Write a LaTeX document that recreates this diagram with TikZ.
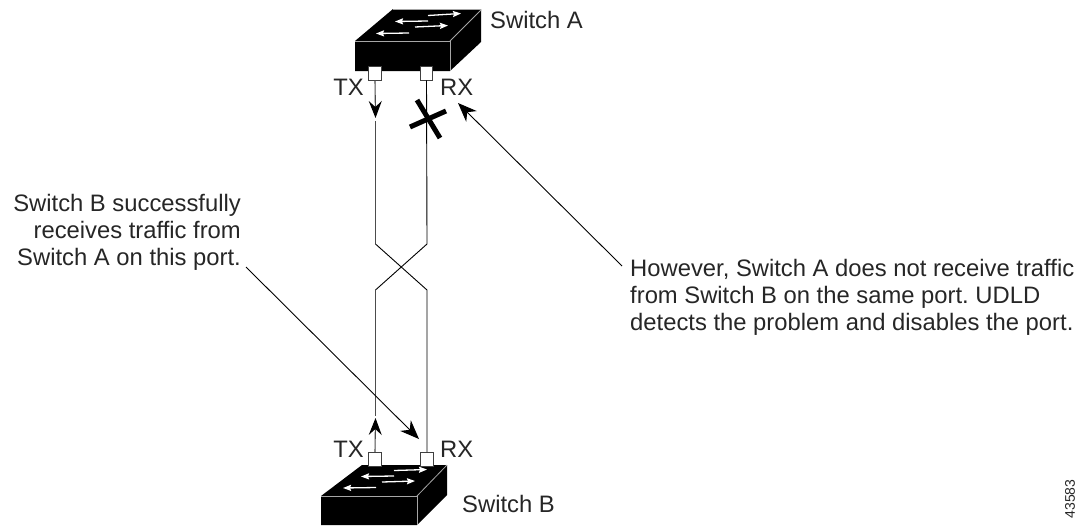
\documentclass[tikz,border=0pt]{standalone}
\usepackage{fontspec}
\setmainfont{Liberation Sans}
\usetikzlibrary{arrows.meta}
\frenchspacing
\tikzset{
  lbl/.style={inner sep=0pt,font=\fontsize{23.8}{26.6}\selectfont,text=black!85},
  portbox/.style={draw=black!75,fill=white,line width=0.9pt,minimum width=12.5pt,minimum height=14pt,inner sep=0pt},
  wire/.style={line width=0.9pt,black},
  greywire/.style={line width=1.1pt,black!70},
  tipped/.style={-{Stealth[length=17pt,width=13pt,inset=6pt,black]}},
  callout/.style={line width=0.9pt,black,-{Stealth[length=19pt,width=15pt,inset=6pt]}},
  whitearrow/.style={draw=white,line width=1.3pt,-{Stealth[length=8pt,width=6pt,inset=1pt]}}
}
\begin{document}
\begin{tikzpicture}[x=1pt,y=-1pt]
\useasboundingbox (0,0) rectangle (1083,525);
% Switch A
\fill[black] (355,41) -- (393,9) -- (481,9) -- (481,42) -- (450,71) -- (355,71) -- cycle;
\draw[draw=black!35,line width=0.8pt] (355,41) -- (450,41) -- (450,71);
\draw[draw=black!35,line width=0.8pt] (450,41) -- (481,10);
\draw[draw=black!35,line width=0.8pt] (393,9.5) -- (481,9.5);
\draw[whitearrow] (428,15.5) -- (461,13.5);
\draw[whitearrow] (428,21) -- (395,21.5);
\draw[whitearrow] (415,27) -- (448,25.5);
\draw[whitearrow] (409,33) -- (376,33.5);
% Switch B
\fill[black] (321,496) -- (362,465) -- (447,465) -- (447,495) -- (417,525) -- (321,525) -- cycle;
\draw[draw=black!35,line width=0.8pt] (321,496) -- (417,496) -- (417,525);
\draw[draw=black!35,line width=0.8pt] (417,496) -- (447,465);
\draw[whitearrow] (394,470.5) -- (427,469.5);
\draw[whitearrow] (394,476) -- (361,476.5);
\draw[whitearrow] (382,482) -- (415,481);
\draw[whitearrow] (376,487.5) -- (343,488);
% Ports
\node[portbox] (atx) at (375,73) {};
\node[portbox] (arx) at (426.5,73) {};
\node[portbox] (btx) at (375,459.5) {};
\node[portbox] (brx) at (427,459.5) {};
% Wire waypoints
\coordinate (atip) at (375.5,118);
\coordinate (a1) at (375.5,121);
\coordinate (a2) at (375.5,244);
\coordinate (a3) at (427,290);
\coordinate (b1) at (427,244);
\coordinate (b2) at (375.5,290);
\coordinate (b3) at (375.5,416);
\coordinate (btip) at (375.5,418);
% Wires
\draw[greywire,tipped] (atx.south) -- (atip);
\draw[greywire] (a1) -- (a2);
\draw[wire] (a2) -- (a3) -- (brx.north);
\draw[wire] (arx.south) -- (b1) -- (b2);
\draw[greywire] (b2) -- (b3);
\draw[greywire,tipped] (btx.north) -- (btip);
% Break mark
\coordinate (x1) at (417,100);
\coordinate (x2) at (440,138);
\coordinate (x3) at (410,127);
\coordinate (x4) at (446,111);
\draw[line width=5pt,black] (x1) -- (x2);
\draw[line width=5pt,black] (x3) -- (x4);
% Labels
\node[lbl,anchor=base west] (sa) at (490,28) {Switch A};
\node[lbl,anchor=base west] (sb) at (462,512) {Switch B};
\node[lbl,anchor=base east] (ltxa) at (364,95) {TX};
\node[lbl,anchor=base west] (lrxa) at (440,95) {RX};
\node[lbl,anchor=base east] (ltxb) at (364,457) {TX};
\node[lbl,anchor=base west] (lrxb) at (440,457) {RX};
\node[lbl,align=right,anchor=north east] (lefttext) at (241,194.5) {Switch B successfully\\receives traffic from\\Switch A on this port.};
\node[lbl,align=left,anchor=north west] (righttext) at (630,259.5) {However, Switch A does not receive traffic\\from Switch B on the same port. UDLD\\detects the problem and disables the port.};
\node[inner sep=0pt,rotate=90,font=\fontsize{14}{16}\selectfont,text=black!85] (fignum) at (1070,499) {43583};
% Callouts
\coordinate (ltip) at (419,439);
\coordinate (rtip) at (458,103);
\coordinate (lstart) at (246,267);
\coordinate (rstart) at (622,266);
\draw[callout] (lstart) -- (ltip);
\draw[callout] (rstart) -- (rtip);
\end{tikzpicture}
\end{document}
